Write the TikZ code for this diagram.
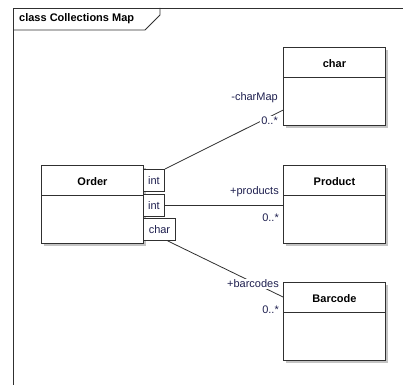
\documentclass[tikz,border=0pt]{standalone}
\usepackage{xcolor}
\usepackage{fontspec}
\setmainfont{Liberation Sans}
\usepackage{tikz}
\usetikzlibrary{shadows, calc}
\definecolor{umlline}{HTML}{303030}
\definecolor{umlshadow}{HTML}{C4C4C4}
\definecolor{roletext}{HTML}{1F2050}
\tikzstyle{classbox} = [rectangle, draw=umlline, line width=0.9pt, fill=white, minimum width=102pt, minimum height=78pt, anchor=north west, drop shadow={shadow xshift=3pt, shadow yshift=-3pt, fill=umlshadow, opacity=1}]
\tikzstyle{classname} = [font=\fontsize{11}{13}\selectfont\bfseries, text=black]
\tikzstyle{qualifier} = [rectangle, draw=umlline, line width=0.9pt, fill=white, minimum height=22pt, inner sep=1pt, anchor=north west, font=\fontsize{11}{13}\selectfont, text=roletext]
\tikzstyle{role} = [anchor=east, fill=white, inner sep=1pt, font=\fontsize{11}{13}\selectfont, text=roletext]
\tikzstyle{assoc} = [line width=0.8pt, color=umlline]

\begin{document}
\begin{tikzpicture}[x=1pt, y=-1pt]
    \useasboundingbox (0,0) rectangle (403,385);
    % diagram frame with its name tab
    \draw[assoc] (403,8) -- (13,8) -- (13,385);
    \draw[assoc] (13,30) -- (145,30) -- (160,15) -- (160,8);
    \node[classname, anchor=west, inner sep=0pt] (title) at (19,19) {class Collections Map};

    % classes
    \node[classbox] (order) at (41,165) {};
    \node[classbox] (charcls) at (283,47) {};
    \node[classbox] (product) at (283,165) {};
    \node[classbox] (barcode) at (283,282) {};
    \foreach \c in {order, charcls, product, barcode}
        \draw[assoc] ($(\c.north west)+(0,30)$) -- ($(\c.north east)+(0,30)$);
    \node[classname] (ordername) at ($(order.north)+(0,17)$) {Order};
    \node[classname] (charname) at ($(charcls.north)+(0,17)$) {char};
    \node[classname] (productname) at ($(product.north)+(0,17)$) {Product};
    \node[classname] (barcodename) at ($(barcode.north)+(0,17)$) {Barcode};

    % qualifiers on Order
    \node[qualifier, minimum width=21pt] (qint1) at (143,169) {int};
    \node[qualifier, minimum width=21pt] (qint2) at (143,194) {int};
    \node[qualifier, minimum width=32pt] (qchar) at (143,218) {char};

    % associations
    \draw[assoc] (qint1.north east) -- ($(charcls.north west)!0.8!(charcls.south west)$);
    \draw[assoc] (qint2.east) -- (qint2.east -| product.west);
    \draw[assoc] ($(qchar.south west)!0.75!(qchar.south east)$) -- ($(barcode.north west)!0.19!(barcode.south west)$);

    % role names and multiplicities
    \node[role] (charmaprole) at (279,98) {-charMap};
    \node[role] (charmapmult) at (279,121) {0..*};
    \node[role] (productsrole) at (280,192) {+products};
    \node[role] (productsmult) at (280,218) {0..*};
    \node[role] (barcodesrole) at (280,284) {+barcodes};
    \node[role] (barcodesmult) at (280,310) {0..*};
\end{tikzpicture}
\end{document}
